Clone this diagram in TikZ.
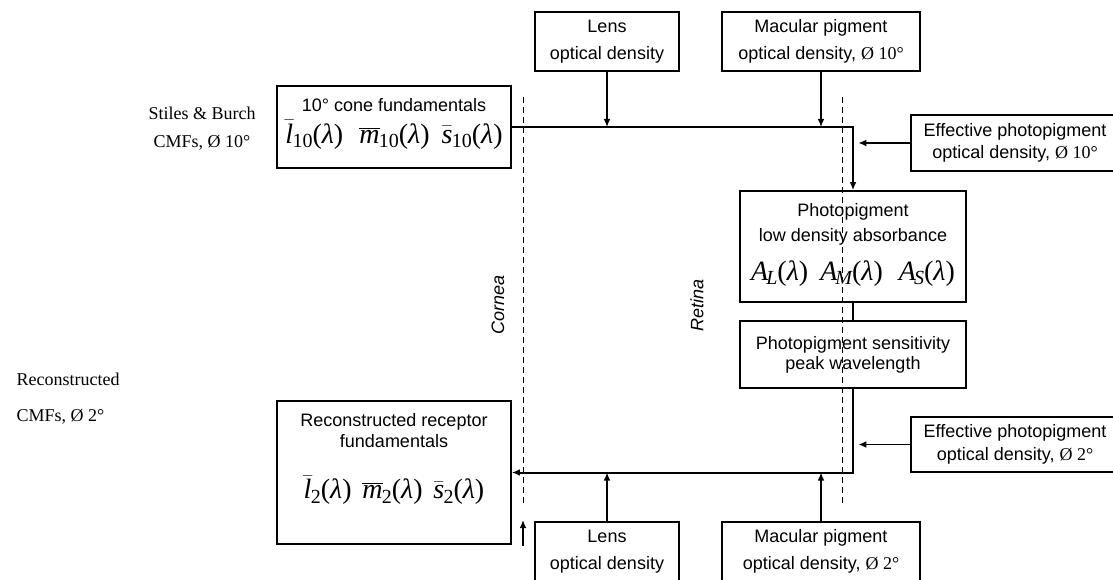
\documentclass[tikz,border=0pt]{standalone}
\usepackage{fontspec}
\setmainfont{Liberation Serif}
\setsansfont{Liberation Sans}
\usetikzlibrary{arrows.meta,positioning}

\newcommand{\dia}[1]{{\rmfamily Ø #1°}}
\newcommand{\bigmath}{\rmfamily\fontsize{21}{25}\selectfont}
% barred cone fundamental and absorbance, set in serif italic
\newcommand{\cfn}[3]{$#1{\mbox{\itshape #2}}$\kern-0.5pt\raisebox{-0.35ex}{\fontsize{15}{15}\selectfont #3}(\textit{λ})}
\newcommand{\absn}[1]{\textit{A}\kern-1.5pt\raisebox{-0.35ex}{\fontsize{15}{15}\selectfont\itshape #1}(\textit{λ})}

\begin{document}
\begin{tikzpicture}[x=0.75pt, y=-0.75pt, >={Latex[length=6pt,width=5pt]},
                    box/.style={draw, line width=1.2pt, align=center, inner sep=0pt,
                                font=\sffamily\fontsize{13.5}{16}\selectfont},
                    flow/.style={line width=1.5pt},
                    feed/.style={->, line width=1pt},
                    eyeline/.style={line width=0.75pt, dash pattern=on 4.5pt off 3pt},
                    side/.style={font=\rmfamily\fontsize{13.5}{16}\selectfont},
                    layer/.style={font=\sffamily\itshape\fontsize{13.5}{16}\selectfont, rotate=90}]
    \useasboundingbox (0,0) rectangle (1113,580);
    \clip (0,0) rectangle (1113,580);

    % eye boundaries
    \draw[eyeline] (523,97) -- (523,505);
    \draw[eyeline] (842,97) -- (842,505);
    \node[layer] (cornea) at (498,305) {Cornea};
    \node[layer] (retina) at (697,305) {Retina};

    % inputs
    \node[side, align=center] (sb) at (202,129) {Stiles \& Burch\\[5pt]CMFs, Ø 10°};
    \node[side, align=left, anchor=west] (rc) at (12,399) {Reconstructed\\[11pt]CMFs, Ø 2°};

    \node[box, minimum width=108pt, minimum height=44.25pt]   (lensT) at (607,41.5)  {Lens\\[4pt]optical density};
    \node[box, minimum width=148.5pt, minimum height=44.25pt] (macT)  at (821,41.5)  {Macular pigment\\[4pt]optical density, \dia{10}};
    \node[box, minimum width=175.5pt, minimum height=61.5pt]  (cone)  at (394,127)   {10° cone fundamentals\\[5pt]{\bigmath\cfn{\bar}{l}{10}\hspace{12pt}\cfn{\overline}{m}{10}\hspace{9pt}\cfn{\bar}{s}{10}}\\[-7pt]\mbox{}};
    \node[box, minimum width=156pt, minimum height=42pt]      (effT)  at (1015,143)  {Effective photopigment\\[1pt]optical density, \dia{10}};
    \node[box, minimum width=169.5pt, minimum height=83.25pt] (pig)   at (853,246.5) {Photopigment\\[3pt]low density absorbance\\[10pt]{\bigmath\absn{L}\hspace{9pt}\absn{M}\hspace{12pt}\absn{S}}\\[-9pt]\mbox{}};
    \node[box, minimum width=169.5pt, minimum height=50.25pt] (sens)  at (853,354.5) {Photopigment sensitivity\\[-1pt]peak wavelength};
    \node[box, minimum width=156pt, minimum height=41.25pt]   (effB)  at (1015,444.5) {Effective photopigment\\[1pt]optical density, \dia{2}};
    \node[box, minimum width=175.5pt, minimum height=107.25pt] (recon) at (394,472.5) {Reconstructed receptor\\fundamentals\\[20pt]{\bigmath\cfn{\bar}{l}{2}\hspace{8pt}\cfn{\overline}{m}{2}\hspace{8pt}\cfn{\bar}{s}{2}}\\[9pt]\mbox{}};
    \node[box, minimum width=108pt, minimum height=44.25pt]   (lensB) at (607,551.5) {Lens\\[4pt]optical density};
    \node[box, minimum width=148.5pt, minimum height=44.25pt] (macB)  at (821,551.5) {Macular pigment\\[4pt]optical density, \dia{2}};

    % main path
    \draw[flow, ->] (cone.east) -| (pig.north);
    \draw[flow]     (pig.south) -- (sens.north);
    \draw[flow, ->] (sens.south) |- (recon.east);

    % filters
    \draw[feed] (lensT) -- (lensT |- cone.east);
    \draw[feed] (macT)  -- (macT |- cone.east);
    \draw[feed] (effT)  -- ([xshift=4pt]pig.north |- effT.west);
    \draw[feed] (effB)  -- ([xshift=4pt]sens.south |- effB.west);
    \draw[feed] (lensB) -- (lensB |- recon.east);
    \draw[feed] (macB)  -- (macB |- recon.east);

    \coordinate (peepT) at (523,546);
    \coordinate (peepH) at (523,520);
    \draw[feed] (peepT) -- (peepH);
\end{tikzpicture}
\end{document}
